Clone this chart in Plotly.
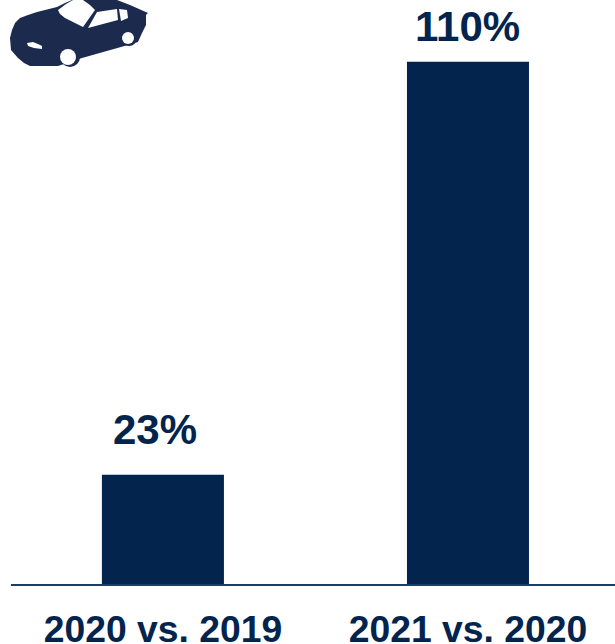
import plotly.graph_objects as go

categories = ["2020 vs. 2019", "2021 vs. 2020"]
growth = [23, 110]
growth_labels = ["23%", "110%"]

NAVY = "#03244d"
CAR = "#1b2a4d"
W, H = 615, 644
LEFT, BOTTOM = 11, 60
PLOT_W, PLOT_H = W - LEFT, H - BOTTOM

# Hand placement of each percentage label relative to its bar: (dx, dy) in pixels
LABEL_NUDGE = [(-8, 20), (0, 10)]

# Car icon outlines, in page pixels
car_body = [(10, 38), (12, 30), (15, 23), (20, 18), (28, 15), (37, 12), (57, 7), (65, 3), (72, 0),
            (117, 0), (130, 5), (148, 13), (146, 15), (146, 25), (142, 33), (138, 42), (128, 45),
            (82, 58), (58, 66), (30, 66), (24, 63), (18, 58), (11, 50)]
windshield = [(58, 10), (66, 4), (73, 0), (83, 0), (90, 5), (95, 10), (83, 27), (65, 18), (60, 14)]
side_window = [(97, 12), (117, 9), (118, 20), (88, 28)]
rear_window = [(119, 9), (127, 10), (128, 18), (121, 21)]
headlight = [(27, 43), (33, 42), (38, 44), (42, 46), (42, 49), (34, 48), (28, 46)]
front_arch = (70, 57, 10)
front_wheel = (68, 57, 8)
rear_arch = (129, 38, 8)
rear_wheel = (128, 38, 6)


def px_x(x):
    return (x - LEFT) / PLOT_W


def px_y(y):
    return 1 - y / PLOT_H


def polygon(points, color):
    d = "M " + " L ".join(f"{px_x(x):.5f},{px_y(y):.5f}" for x, y in points) + " Z"
    return dict(type="path", path=d, xref="paper", yref="paper",
                fillcolor=color, line=dict(width=0), layer="above")


def disc(cx, cy, r, color):
    return dict(type="circle", xref="paper", yref="paper",
                x0=px_x(cx - r), x1=px_x(cx + r), y0=px_y(cy + r), y1=px_y(cy - r),
                fillcolor=color, line=dict(width=0), layer="above")


shapes = [
    polygon(car_body, CAR),
    polygon(windshield, "white"),
    polygon(side_window, "white"),
    polygon(rear_window, "white"),
    polygon(headlight, "white"),
    disc(*front_arch, CAR),
    disc(*rear_arch, CAR),
    disc(*front_wheel, "white"),
    disc(*rear_wheel, "white"),
]

fig = go.Figure(go.Bar(
    x=[0, 1],
    y=growth,
    width=0.4,
    marker=dict(color=NAVY, line=dict(width=0)),
))

for i, (value, label, nudge) in enumerate(zip(growth, growth_labels, LABEL_NUDGE)):
    fig.add_annotation(
        x=i, y=value, text=label, showarrow=False,
        xanchor="center", yanchor="bottom", xshift=nudge[0], yshift=nudge[1],
        font=dict(family="Liberation Sans", size=42, color=NAVY, weight="bold"),
    )

fig.update_layout(
    width=W,
    height=H,
    margin=dict(l=LEFT, r=0, t=0, b=BOTTOM),
    paper_bgcolor="white",
    plot_bgcolor="white",
    showlegend=False,
    shapes=shapes,
    xaxis=dict(
        range=[-0.498, 1.482],
        automargin=False,
        tickmode="array",
        tickvals=[0, 1],
        ticktext=categories,
        showgrid=False,
        zeroline=False,
        showline=True,
        linecolor="#1c3d6a",
        linewidth=2,
        ticks="outside",
        ticklen=11,
        tickcolor="rgba(0,0,0,0)",
        tickfont=dict(family="Liberation Sans", size=37.3, color=NAVY, weight="bold"),
    ),
    yaxis=dict(range=[0, 123], visible=False, automargin=False),
)

fig.write_html("out.html", config=dict(displayModeBar=False))
